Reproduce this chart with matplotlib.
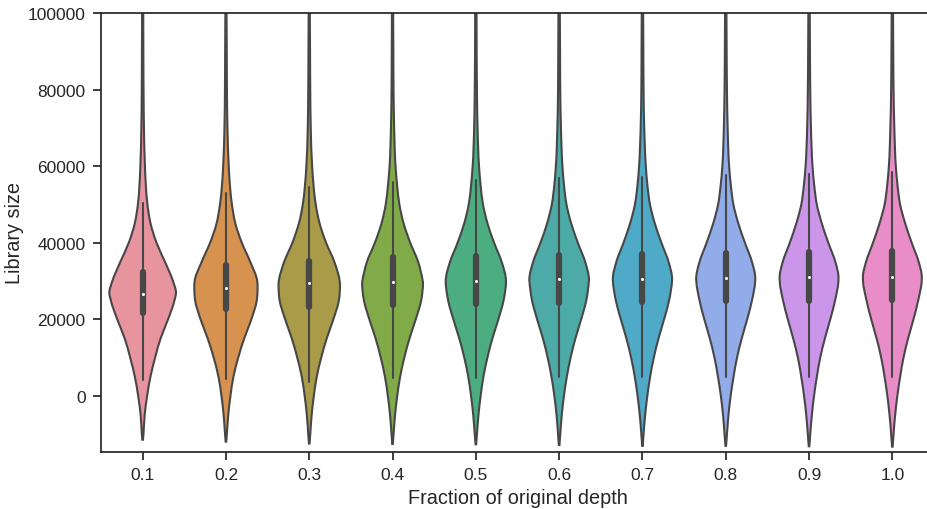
import matplotlib
matplotlib.use("Agg")
import matplotlib.pyplot as plt
from matplotlib.path import Path
from matplotlib.patches import PathPatch
import numpy as np

# Subsampling fractions on the x axis
CATEGORIES = ["0.1", "0.2", "0.3", "0.4", "0.5", "0.6", "0.7", "0.8", "0.9", "1.0"]
COLORS = ["#e8949f", "#d6924e", "#a99b48", "#80ab48", "#4bad80",
          "#4caba6", "#4eaac6", "#92acea", "#cb96ea", "#e88dc8"]

# Box statistics per fraction (library size)
WHISKER_LOW = [4200, 4400, 3600, 4600, 4800, 4900, 5000, 5000, 5000, 5000]
Q1 = [21600, 22800, 23300, 23800, 24100, 24400, 24600, 24800, 24900, 25100]
MEDIAN = [26700, 28200, 29400, 29800, 30100, 30500, 30600, 30800, 31000, 31200]
Q3 = [32400, 34300, 35300, 36200, 36500, 36900, 37100, 37400, 37600, 37800]
WHISKER_HIGH = [50300, 52900, 54700, 55800, 56400, 56800, 57300, 57700, 58000, 58600]

# Lower end of each kernel density estimate
TAIL_LOW = [-11400, -11900, -12400, -12500, -12600, -12800, -13000, -13000, -13100, -13200]

# Mode of each density and its (relative) height
PEAK_AT = [27000, 28200, 29300, 29700, 30000, 30300, 30500, 30700, 30900, 31100]
PEAK_DENSITY = [33.5, 31.8, 30.9, 30.6, 30.3, 30.0, 29.8, 29.7, 29.6, 29.6]

# Relative density of each fraction evaluated at fixed library sizes
LEVELS = [-10000, -5000, 0, 5000, 10000, 15000, 20000, 25000, 30000, 35000,
          40000, 45000, 50000, 55000, 60000, 70000, 80000, 90000, 100000, 110000]
DENSITY = {
    "0.1": [0.8, 2.0, 4.5, 7.8, 12.5, 18.0, 25.5, 32.0, 30.5, 22.5,
            14.0, 8.0, 4.8, 3.2, 2.3, 1.3, 0.9, 0.7, 0.6, 0.5],
    "0.2": [0.9, 2.3, 4.5, 7.5, 12.3, 18.3, 25.5, 31.0, 31.5, 24.5,
            16.0, 9.5, 6.0, 4.0, 2.8, 1.5, 1.0, 0.8, 0.6, 0.5],
    "0.3": [1.0, 2.4, 4.6, 7.5, 12.0, 17.5, 24.2, 29.8, 30.6, 25.3,
            17.0, 10.5, 6.5, 4.3, 2.9, 1.5, 1.0, 0.8, 0.6, 0.5],
    "0.4": [1.0, 2.5, 4.7, 7.6, 11.8, 17.0, 23.3, 28.8, 30.4, 25.8,
            17.8, 11.2, 6.9, 4.6, 3.0, 1.6, 1.0, 0.8, 0.6, 0.5],
    "0.5": [1.1, 2.6, 4.8, 7.6, 11.6, 16.6, 22.6, 27.9, 30.1, 26.0,
            18.4, 11.8, 7.2, 4.8, 3.2, 1.7, 1.1, 0.8, 0.7, 0.5],
    "0.6": [1.1, 2.6, 4.8, 7.7, 11.5, 16.3, 22.1, 27.3, 29.9, 26.2,
            18.8, 12.2, 7.4, 4.9, 3.3, 1.8, 1.1, 0.9, 0.7, 0.5],
    "0.7": [1.1, 2.7, 4.9, 7.7, 11.4, 16.1, 21.7, 26.8, 29.7, 26.3,
            19.1, 12.5, 7.6, 5.0, 3.4, 1.8, 1.1, 0.9, 0.7, 0.5],
    "0.8": [1.2, 2.7, 4.9, 7.8, 11.3, 16.0, 21.5, 26.4, 29.6, 26.4,
            19.3, 12.7, 7.7, 5.1, 3.4, 1.9, 1.2, 0.9, 0.7, 0.5],
    "0.9": [1.2, 2.8, 5.0, 7.8, 11.2, 15.9, 21.3, 26.2, 29.5, 26.5,
            19.4, 12.9, 7.8, 5.2, 3.5, 1.9, 1.2, 0.9, 0.7, 0.5],
    "1.0": [1.2, 2.8, 5.0, 7.8, 11.2, 15.8, 21.2, 26.0, 29.5, 26.5,
            19.5, 13.0, 7.8, 5.2, 3.5, 2.0, 1.2, 0.9, 0.7, 0.5],
}

plt.rcParams["font.family"] = ["Liberation Sans", "DejaVu Sans"]
TEXT = "#262626"
GRAY = "#474747"


def outline_slopes(ys, ws, peak):
    """Three-point slopes for a smooth outline, flat at the mode."""
    h = np.diff(ys)
    s = np.diff(ws) / h
    m = np.zeros_like(ws)
    m[0], m[-1] = s[0], s[-1]
    for i in range(1, len(ws) - 1):
        h0, h1 = h[i - 1], h[i]
        m[i] = (h1 * s[i - 1] + h0 * s[i]) / (h0 + h1)
    m[ys == peak] = 0.0
    return m


def violin_path(center, ys, ws, peak):
    m = outline_slopes(ys, ws, peak)
    verts = [(center + ws[0], ys[0])]
    codes = [Path.MOVETO]
    # right edge, bottom to top
    for i in range(len(ys) - 1):
        h = ys[i + 1] - ys[i]
        verts += [(center + ws[i] + m[i] * h / 3, ys[i] + h / 3),
                  (center + ws[i + 1] - m[i + 1] * h / 3, ys[i + 1] - h / 3),
                  (center + ws[i + 1], ys[i + 1])]
        codes += [Path.CURVE4] * 3
    verts.append((center - ws[-1], ys[-1]))
    codes.append(Path.LINETO)
    # left edge, top to bottom
    for i in range(len(ys) - 2, -1, -1):
        h = ys[i + 1] - ys[i]
        verts += [(center - ws[i + 1] + m[i + 1] * h / 3, ys[i + 1] - h / 3),
                  (center - ws[i] - m[i] * h / 3, ys[i] + h / 3),
                  (center - ws[i], ys[i])]
        codes += [Path.CURVE4] * 3
    verts.append(verts[0])
    codes.append(Path.CLOSEPOLY)
    return Path(verts, codes)


fig = plt.figure(figsize=(9.27, 5.1), dpi=100)
ax = fig.add_axes([101 / 927, 57 / 510, 833 / 927, 439 / 510])

max_density = max(PEAK_DENSITY)
half_width = 0.4  # violins of width 0.8 at the highest peak

for i, cat in enumerate(CATEGORIES):
    ys = [TAIL_LOW[i]] + LEVELS
    ds = [0.3] + DENSITY[cat]
    # add the mode, dropping a grid level that sits on it
    pts = {y: d for y, d in zip(ys, ds) if y != PEAK_AT[i]}
    pts[PEAK_AT[i]] = PEAK_DENSITY[i]
    ys = np.array(sorted(pts), dtype=float)
    ws = np.array([pts[y] for y in sorted(pts)]) / max_density * half_width

    ax.add_patch(PathPatch(violin_path(i, ys, ws, PEAK_AT[i]), facecolor=COLORS[i],
                           edgecolor=GRAY, linewidth=1.5, zorder=1))
    ax.plot([i, i], [WHISKER_LOW[i], WHISKER_HIGH[i]], color=GRAY,
            linewidth=1.5, solid_capstyle="round", zorder=2)
    ax.plot([i, i], [Q1[i], Q3[i]], color=GRAY, linewidth=4.5,
            solid_capstyle="round", zorder=2)
    ax.scatter([i], [MEDIAN[i]], s=9, color="white", edgecolor=GRAY,
               linewidth=0.8, zorder=3)

ax.set_xlim(-0.5, len(CATEGORIES) - 0.5)
ax.set_ylim(-14600, 100000)
ax.set_xticks(range(len(CATEGORIES)))
ax.set_xticklabels(CATEGORIES)
ax.set_yticks(np.arange(0, 100001, 20000))

ax.spines["right"].set_visible(False)
for side in ["left", "bottom", "top"]:
    ax.spines[side].set_color(TEXT)
    ax.spines[side].set_linewidth(1.25)
ax.tick_params(axis="both", direction="out", length=6, width=1.25,
               color=TEXT, labelcolor=TEXT, labelsize=12.5, pad=5)

ax.set_xlabel("Fraction of original depth", fontsize=14.3, color=TEXT, labelpad=4)
ax.set_ylabel("Library size", fontsize=14.3, color=TEXT, labelpad=3)

fig.savefig("out.png", dpi=100)
